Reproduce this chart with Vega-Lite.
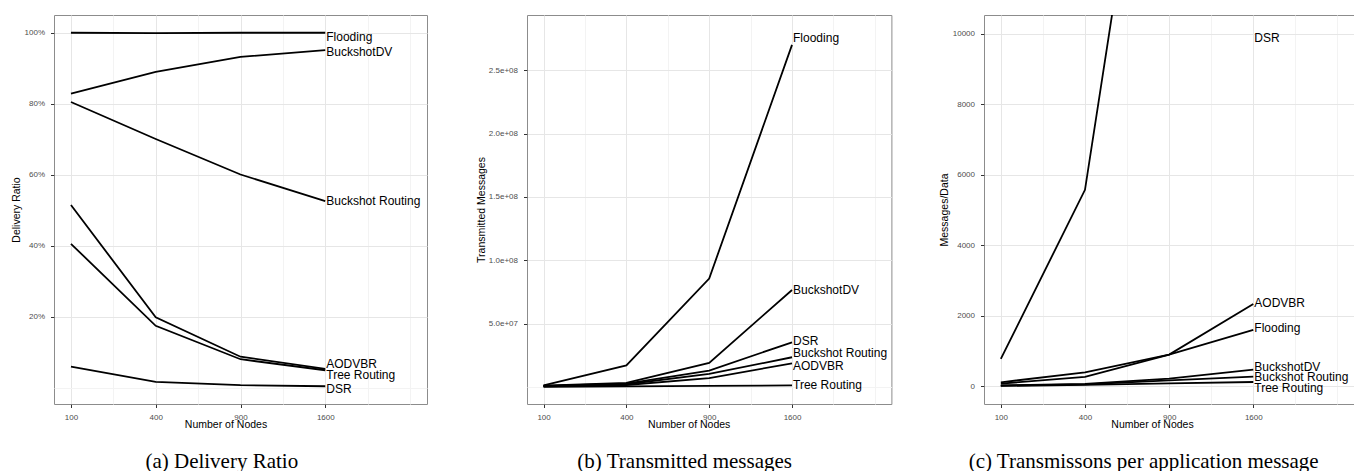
{
  "$schema": "https://vega.github.io/schema/vega-lite/v6.json",
  "padding": {"left": 10, "top": 14, "right": 0, "bottom": 0},
  "background": "white",
  "spacing": 47,
  "align": "each",
  "config": {
    "view": {"stroke": "#8c8c8c", "strokeWidth": 1},
    "axis": {
      "domain": false,
      "labelFont": "Liberation Sans",
      "labelFontSize": 8,
      "labelColor": "#4d4d4d",
      "labelPadding": 6,
      "labelOverlap": false,
      "labelFlush": false,
      "tickColor": "#333333",
      "tickSize": 3.5,
      "tickWidth": 1,
      "titleFont": "Liberation Sans",
      "titleFontSize": 10.5,
      "titleFontWeight": "normal",
      "titleColor": "black"
    },
    "title": {"font": "Liberation Serif", "fontSize": 21, "fontWeight": "normal", "color": "black"}
  },
  "datasets": {
    "ratio": [
      {"nodes": 100, "protocol": "Flooding", "value": 1.0},
      {"nodes": 400, "protocol": "Flooding", "value": 0.999},
      {"nodes": 900, "protocol": "Flooding", "value": 1.0},
      {"nodes": 1600, "protocol": "Flooding", "value": 1.0},
      {"nodes": 100, "protocol": "BuckshotDV", "value": 0.829},
      {"nodes": 400, "protocol": "BuckshotDV", "value": 0.890},
      {"nodes": 900, "protocol": "BuckshotDV", "value": 0.932},
      {"nodes": 1600, "protocol": "BuckshotDV", "value": 0.951},
      {"nodes": 100, "protocol": "Buckshot Routing", "value": 0.805},
      {"nodes": 400, "protocol": "Buckshot Routing", "value": 0.701},
      {"nodes": 900, "protocol": "Buckshot Routing", "value": 0.601},
      {"nodes": 1600, "protocol": "Buckshot Routing", "value": 0.526},
      {"nodes": 100, "protocol": "AODVBR", "value": 0.515},
      {"nodes": 400, "protocol": "AODVBR", "value": 0.199},
      {"nodes": 900, "protocol": "AODVBR", "value": 0.088},
      {"nodes": 1600, "protocol": "AODVBR", "value": 0.054},
      {"nodes": 100, "protocol": "Tree Routing", "value": 0.406},
      {"nodes": 400, "protocol": "Tree Routing", "value": 0.175},
      {"nodes": 900, "protocol": "Tree Routing", "value": 0.081},
      {"nodes": 1600, "protocol": "Tree Routing", "value": 0.050},
      {"nodes": 100, "protocol": "DSR", "value": 0.060},
      {"nodes": 400, "protocol": "DSR", "value": 0.017},
      {"nodes": 900, "protocol": "DSR", "value": 0.008},
      {"nodes": 1600, "protocol": "DSR", "value": 0.005}
    ],
    "ratioLabels": [
      {"nodes": 1600, "protocol": "Flooding", "labely": 0.988},
      {"nodes": 1600, "protocol": "BuckshotDV", "labely": 0.946},
      {"nodes": 1600, "protocol": "Buckshot Routing", "labely": 0.526},
      {"nodes": 1600, "protocol": "AODVBR", "labely": 0.068},
      {"nodes": 1600, "protocol": "Tree Routing", "labely": 0.036},
      {"nodes": 1600, "protocol": "DSR", "labely": -0.003}
    ],
    "messages": [
      {"nodes": 100, "protocol": "Flooding", "value": 1300000},
      {"nodes": 400, "protocol": "Flooding", "value": 17100000},
      {"nodes": 900, "protocol": "Flooding", "value": 85600000},
      {"nodes": 1600, "protocol": "Flooding", "value": 270000000},
      {"nodes": 100, "protocol": "BuckshotDV", "value": 1000000},
      {"nodes": 400, "protocol": "BuckshotDV", "value": 3200000},
      {"nodes": 900, "protocol": "BuckshotDV", "value": 19000000},
      {"nodes": 1600, "protocol": "BuckshotDV", "value": 76600000},
      {"nodes": 100, "protocol": "DSR", "value": 800000},
      {"nodes": 400, "protocol": "DSR", "value": 2600000},
      {"nodes": 900, "protocol": "DSR", "value": 13000000},
      {"nodes": 1600, "protocol": "DSR", "value": 35300000},
      {"nodes": 100, "protocol": "Buckshot Routing", "value": 700000},
      {"nodes": 400, "protocol": "Buckshot Routing", "value": 2200000},
      {"nodes": 900, "protocol": "Buckshot Routing", "value": 10300000},
      {"nodes": 1600, "protocol": "Buckshot Routing", "value": 23500000},
      {"nodes": 100, "protocol": "AODVBR", "value": 600000},
      {"nodes": 400, "protocol": "AODVBR", "value": 1600000},
      {"nodes": 900, "protocol": "AODVBR", "value": 7100000},
      {"nodes": 1600, "protocol": "AODVBR", "value": 18700000},
      {"nodes": 100, "protocol": "Tree Routing", "value": 200000},
      {"nodes": 400, "protocol": "Tree Routing", "value": 500000},
      {"nodes": 900, "protocol": "Tree Routing", "value": 900000},
      {"nodes": 1600, "protocol": "Tree Routing", "value": 1300000}
    ],
    "messageLabels": [
      {"nodes": 1600, "protocol": "Flooding", "labely": 275700000},
      {"nodes": 1600, "protocol": "BuckshotDV", "labely": 76600000},
      {"nodes": 1600, "protocol": "DSR", "labely": 36000000},
      {"nodes": 1600, "protocol": "Buckshot Routing", "labely": 26600000},
      {"nodes": 1600, "protocol": "AODVBR", "labely": 16400000},
      {"nodes": 1600, "protocol": "Tree Routing", "labely": 1300000}
    ],
    "perData": [
      {"nodes": 100, "protocol": "DSR", "value": 775},
      {"nodes": 400, "protocol": "DSR", "value": 5570},
      {"nodes": 900, "protocol": "DSR", "value": 21000},
      {"nodes": 1600, "protocol": "DSR", "value": 40000},
      {"nodes": 100, "protocol": "AODVBR", "value": 77},
      {"nodes": 400, "protocol": "AODVBR", "value": 264},
      {"nodes": 900, "protocol": "AODVBR", "value": 899},
      {"nodes": 1600, "protocol": "AODVBR", "value": 2335},
      {"nodes": 100, "protocol": "Flooding", "value": 113},
      {"nodes": 400, "protocol": "Flooding", "value": 397},
      {"nodes": 900, "protocol": "Flooding", "value": 899},
      {"nodes": 1600, "protocol": "Flooding", "value": 1598},
      {"nodes": 100, "protocol": "BuckshotDV", "value": 25},
      {"nodes": 400, "protocol": "BuckshotDV", "value": 70},
      {"nodes": 900, "protocol": "BuckshotDV", "value": 218},
      {"nodes": 1600, "protocol": "BuckshotDV", "value": 473},
      {"nodes": 100, "protocol": "Buckshot Routing", "value": 18},
      {"nodes": 400, "protocol": "Buckshot Routing", "value": 57},
      {"nodes": 900, "protocol": "Buckshot Routing", "value": 170},
      {"nodes": 1600, "protocol": "Buckshot Routing", "value": 275},
      {"nodes": 100, "protocol": "Tree Routing", "value": 10},
      {"nodes": 400, "protocol": "Tree Routing", "value": 40},
      {"nodes": 900, "protocol": "Tree Routing", "value": 85},
      {"nodes": 1600, "protocol": "Tree Routing", "value": 122}
    ],
    "perDataLabels": [
      {"nodes": 1600, "protocol": "DSR", "labely": 9880},
      {"nodes": 1600, "protocol": "AODVBR", "labely": 2364},
      {"nodes": 1600, "protocol": "Flooding", "labely": 1645},
      {"nodes": 1600, "protocol": "BuckshotDV", "labely": 548},
      {"nodes": 1600, "protocol": "Buckshot Routing", "labely": 264},
      {"nodes": 1600, "protocol": "Tree Routing", "labely": -37}
    ]
  },
  "hconcat": [
    {
      "width": 373,
      "height": 389,
      "title": {"text": "(a) Delivery Ratio", "orient": "bottom", "anchor": "middle", "frame": "group", "baseline": "alphabetic", "offset": 38, "dx": -18.7},
      "layer": [
        {
          "data": {"name": "ratio"},
          "mark": {"type": "line", "color": "black", "strokeWidth": 1.8, "clip": true},
          "encoding": {
            "x": {
              "field": "nodes", "type": "quantitative", "title": "Number of Nodes",
              "scale": {"type": "sqrt", "domain": [64, 2704], "zero": false, "nice": false},
              "axis": {
                "values": [100, 225, 400, 625, 900, 1225, 1600, 2025, 2500],
                "labelExpr": "indexof([100,400,900,1600], datum.value) >= 0 ? format(datum.value, 'd') : ''",
                "tickOpacity": {"condition": {"test": "indexof([100,400,900,1600], datum.value) < 0", "value": 0}, "value": 1},
                "gridColor": {"condition": {"test": "indexof([100,400,900,1600], datum.value) < 0", "value": "#f3f3f3"}, "value": "#e6e6e6"},
                "gridWidth": 1,
                "titleX": 171.5, "titleY": 23, "titleBaseline": "alphabetic"
              }
            },
            "y": {
              "field": "value", "type": "quantitative", "title": "Delivery Ratio",
              "scale": {"domain": [-0.045, 1.05], "zero": false, "nice": false},
              "axis": {
                "values": [0, 0.1, 0.2, 0.3, 0.4, 0.5, 0.6, 0.7, 0.8, 0.9, 1],
                "labelExpr": "indexof([0.2,0.4,0.6,0.8,1], datum.value) >= 0 ? format(datum.value, '.0%') : ''",
                "tickOpacity": {"condition": {"test": "indexof([0.2,0.4,0.6,0.8,1], datum.value) < 0", "value": 0}, "value": 1},
                "gridColor": {"condition": {"test": "indexof([0.2,0.4,0.6,0.8,1], datum.value) < 0", "value": "#f3f3f3"}, "value": "#e6e6e6"},
                "gridWidth": 1,
                "titleX": -33
              }
            },
            "detail": {"field": "protocol"}
          }
        },
        {
          "data": {"name": "ratioLabels"},
          "mark": {"type": "text", "align": "left", "baseline": "middle", "font": "Liberation Sans", "fontSize": 12, "color": "black", "dx": 1},
          "encoding": {
            "x": {"field": "nodes", "type": "quantitative", "title": "Number of Nodes"},
            "y": {"field": "labely", "type": "quantitative", "title": "Delivery Ratio"},
            "text": {"field": "protocol"}
          }
        }
      ]
    },
    {
      "width": 364.4,
      "height": 389,
      "title": {"text": "(b) Transmitted messages", "orient": "bottom", "anchor": "middle", "frame": "group", "baseline": "alphabetic", "offset": 38, "dx": -24.5},
      "layer": [
        {
          "data": {"name": "messages"},
          "mark": {"type": "line", "color": "black", "strokeWidth": 1.8, "clip": true},
          "encoding": {
            "x": {
              "field": "nodes", "type": "quantitative", "title": "Number of Nodes",
              "scale": {"type": "sqrt", "domain": [64, 2704], "zero": false, "nice": false},
              "axis": {
                "values": [100, 225, 400, 625, 900, 1225, 1600, 2025, 2500],
                "labelExpr": "indexof([100,400,900,1600], datum.value) >= 0 ? format(datum.value, 'd') : ''",
                "tickOpacity": {"condition": {"test": "indexof([100,400,900,1600], datum.value) < 0", "value": 0}, "value": 1},
                "gridColor": {"condition": {"test": "indexof([100,400,900,1600], datum.value) < 0", "value": "#f3f3f3"}, "value": "#e6e6e6"},
                "gridWidth": 1,
                "titleX": 161.7, "titleY": 23, "titleBaseline": "alphabetic"
              }
            },
            "y": {
              "field": "value", "type": "quantitative", "title": "Transmitted Messages",
              "scale": {"domain": [-13400000, 293600000], "zero": false, "nice": false},
              "axis": {
                "values": [0, 25000000, 50000000, 75000000, 100000000, 125000000, 150000000, 175000000, 200000000, 225000000, 250000000, 275000000],
                "labelExpr": "indexof([50000000,100000000,150000000,200000000,250000000], datum.value) >= 0 ? replace(format(datum.value, '.1e'), 'e+', 'e+0') : ''",
                "tickOpacity": {"condition": {"test": "indexof([50000000,100000000,150000000,200000000,250000000], datum.value) < 0", "value": 0}, "value": 1},
                "gridColor": {"condition": {"test": "indexof([50000000,100000000,150000000,200000000,250000000], datum.value) < 0", "value": "#f3f3f3"}, "value": "#e6e6e6"},
                "gridWidth": 1,
                "titleX": -40.8
              }
            },
            "detail": {"field": "protocol"}
          }
        },
        {
          "data": {"name": "messageLabels"},
          "mark": {"type": "text", "align": "left", "baseline": "middle", "font": "Liberation Sans", "fontSize": 12, "color": "black", "dx": 1},
          "encoding": {
            "x": {"field": "nodes", "type": "quantitative", "title": "Number of Nodes"},
            "y": {"field": "labely", "type": "quantitative", "title": "Transmitted Messages"},
            "text": {"field": "protocol"}
          }
        }
      ]
    },
    {
      "width": 370.3,
      "height": 389,
      "title": {"text": "(c) Transmissons per application message", "orient": "bottom", "anchor": "middle", "frame": "group", "baseline": "alphabetic", "offset": 38, "dx": -25.5},
      "layer": [
        {
          "data": {"name": "perData"},
          "mark": {"type": "line", "color": "black", "strokeWidth": 1.8, "clip": true},
          "encoding": {
            "x": {
              "field": "nodes", "type": "quantitative", "title": "Number of Nodes",
              "scale": {"type": "sqrt", "domain": [64, 2704], "zero": false, "nice": false},
              "axis": {
                "values": [100, 225, 400, 625, 900, 1225, 1600, 2025, 2500],
                "labelExpr": "indexof([100,400,900,1600], datum.value) >= 0 ? format(datum.value, 'd') : ''",
                "tickOpacity": {"condition": {"test": "indexof([100,400,900,1600], datum.value) < 0", "value": 0}, "value": 1},
                "gridColor": {"condition": {"test": "indexof([100,400,900,1600], datum.value) < 0", "value": "#f3f3f3"}, "value": "#e6e6e6"},
                "gridWidth": 1,
                "titleX": 168, "titleY": 23, "titleBaseline": "alphabetic"
              }
            },
            "y": {
              "field": "value", "type": "quantitative", "title": "Messages/Data",
              "scale": {"domain": [-502, 10525], "zero": false, "nice": false},
              "axis": {
                "values": [0, 1000, 2000, 3000, 4000, 5000, 6000, 7000, 8000, 9000, 10000],
                "labelExpr": "indexof([0,2000,4000,6000,8000,10000], datum.value) >= 0 ? format(datum.value, 'd') : ''",
                "tickOpacity": {"condition": {"test": "indexof([0,2000,4000,6000,8000,10000], datum.value) < 0", "value": 0}, "value": 1},
                "gridColor": {"condition": {"test": "indexof([0,2000,4000,6000,8000,10000], datum.value) < 0", "value": "#f3f3f3"}, "value": "#e6e6e6"},
                "gridWidth": 1,
                "titleX": -34.4
              }
            },
            "detail": {"field": "protocol"}
          }
        },
        {
          "data": {"name": "perDataLabels"},
          "mark": {"type": "text", "align": "left", "baseline": "middle", "font": "Liberation Sans", "fontSize": 12, "color": "black", "dx": 1},
          "encoding": {
            "x": {"field": "nodes", "type": "quantitative", "title": "Number of Nodes"},
            "y": {"field": "labely", "type": "quantitative", "title": "Messages/Data"},
            "text": {"field": "protocol"}
          }
        }
      ]
    }
  ]
}
